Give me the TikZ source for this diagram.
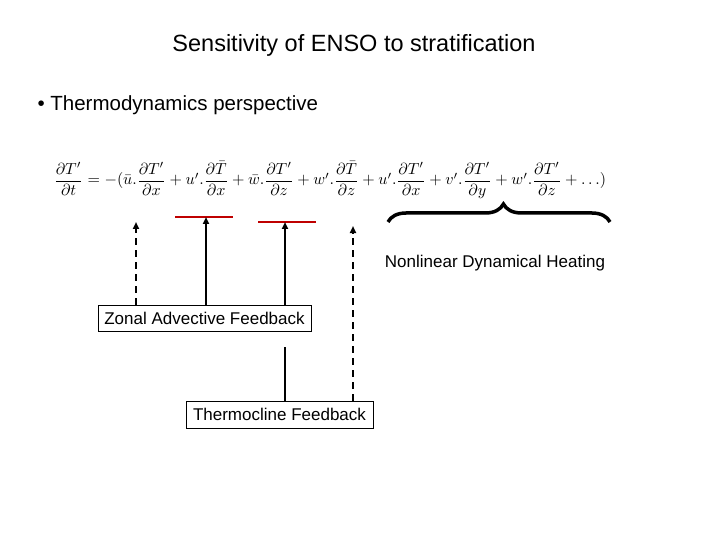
\documentclass[tikz,border=0pt]{standalone}
\usepackage{fontspec}
\setmainfont{Liberation Sans}
\usepackage{amsmath}
\usetikzlibrary{decorations.pathreplacing,arrows.meta}
\begin{document}
\begin{tikzpicture}[x=1pt,y=-1pt,
  lbl/.style={draw=black,fill=white,inner sep=2pt,font=\fontsize{17}{20}\selectfont},
  fb/.style={line width=2.2pt,-{Triangle[width=6pt,length=7pt]}},
  dsh/.style={fb,dash pattern=on 7pt off 5pt},
  bar/.style={draw=red!75!black,line width=2.5pt}]
\useasboundingbox (0,0) rectangle (720,540);
\node (title) at (354,45) {\fontsize{23.5}{27}\selectfont Sensitivity of ENSO to stratification};
\node[anchor=west] (bullet) at (34,105) {\fontsize{20.5}{24}\selectfont • Thermodynamics perspective};
\node (eq) at (330,180) {\resizebox{552pt}{!}{$\dfrac{\partial T'}{\partial t}=-(\bar{u}.\dfrac{\partial T'}{\partial x}+u'.\dfrac{\partial \bar{T}}{\partial x}+\bar{w}.\dfrac{\partial T'}{\partial z}+w'.\dfrac{\partial \bar{T}}{\partial z}+u'.\dfrac{\partial T'}{\partial x}+v'.\dfrac{\partial T'}{\partial y}+w'.\dfrac{\partial T'}{\partial z}+\ldots)$}};
\node[lbl,minimum width=213pt,minimum height=26pt] (zonal) at (204.5,318) {Zonal Advective Feedback};
\node[lbl,minimum width=187pt,minimum height=27pt] (thermo) at (279.5,414.5) {Thermocline Feedback};
\coordinate (b1) at (206,217); \coordinate (b2) at (285,222);
\draw[bar] (175,217) -- (233,217);
\draw[bar] (258,222) -- (316,222);
\draw[dsh] (zonal.north -| 136,0) -- (136,222);
\draw[fb] (zonal.north -| 206,0) -- (b1);
\draw[fb] (zonal.north -| 285,0) -- (b2);
\draw[line width=2.2pt] (thermo.north -| 285,0) -- (285,347);
\draw[dsh] (thermo.north -| 353,0) -- (353,226);
\coordinate (br1) at (388,222); \coordinate (br2) at (610,222);
\draw[line width=3.5pt,decorate,decoration={brace,amplitude=18pt,aspect=0.52}] (br1) -- (br2);
\node[font=\fontsize{17}{20}\selectfont] (nl) at (495,263) {Nonlinear Dynamical Heating};
\end{tikzpicture}
\end{document}
